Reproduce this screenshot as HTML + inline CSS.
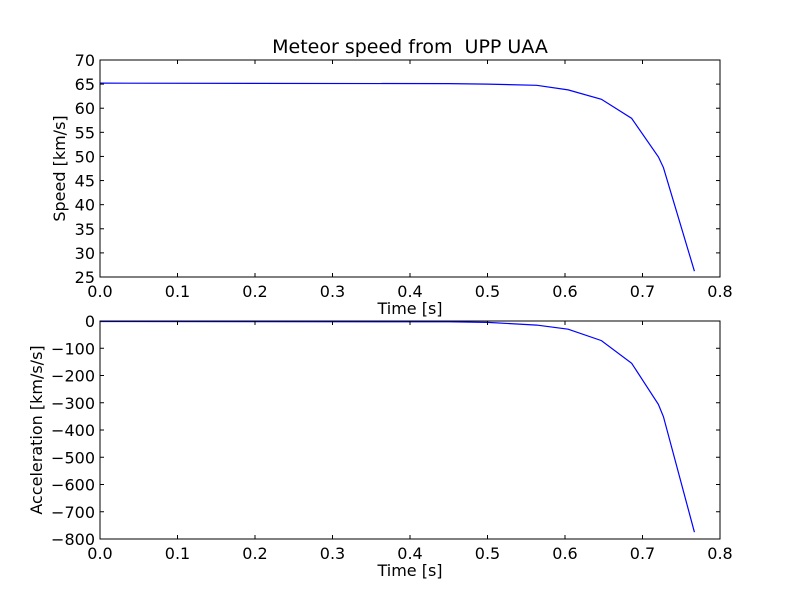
<!DOCTYPE html>
<html><head><meta charset="utf-8"><style>
html,body{margin:0;padding:0;background:#fff}
svg{display:block;font-family:"DejaVu Sans","Liberation Sans",sans-serif}
</style></head><body>
<svg id="fig" width="800" height="600"></svg>
<script>
const timeVals = [0, 0.45, 0.5, 0.5635, 0.604, 0.647, 0.686, 0.7205, 0.727, 0.767];
const speedVals = [65.2, 65.1, 65.0, 64.75, 63.8, 61.85, 57.9, 49.9, 47.7, 26.2];
const accelVals = [-2, -3, -5, -15, -30, -72, -155, -306, -351, -775];
const xTicks = [0, 0.1, 0.2, 0.3, 0.4, 0.5, 0.6, 0.7, 0.8];
const speedTicks = [25, 30, 35, 40, 45, 50, 55, 60, 65, 70];
const accelTicks = [-800, -700, -600, -500, -400, -300, -200, -100, 0];

const NS = "http://www.w3.org/2000/svg";
const svg = document.getElementById('fig');
function mk(tag, attrs, parent) {
  const e = document.createElementNS(NS, tag);
  for (const k in attrs) e.setAttribute(k, attrs[k]);
  (parent || svg).appendChild(e);
  return e;
}
function panel(name, top, bottom, ymin, ymax, yTicks, yVals, yLabel, yLabelX) {
  const L = 100, R = 720;
  const g = mk('g', {});
  
  
  const sx = v => L + (v - 0) / 0.8 * (R - L);
  const sy = v => bottom - (v - ymin) / (ymax - ymin) * (bottom - top);
  // line
  const pts = timeVals.map((t, i) => sx(t).toFixed(2) + ',' + sy(yVals[i]).toFixed(2)).join(' ');
  const line = mk('polyline', {points: pts, fill: 'none', stroke: '#0000ff', 'stroke-width': 1.2}, g);
  
  
  // frame
  const fr = mk('rect', {x: L, y: top, width: R - L, height: bottom - top, fill: 'none', stroke: '#000', 'stroke-width': 1}, g);
  
  
  xTicks.forEach(t => {
    const x = sx(t);
    mk('line', {x1: x, x2: x, y1: bottom, y2: bottom - 4, stroke: '#000'}, g);
    mk('line', {x1: x, x2: x, y1: top, y2: top + 4, stroke: '#000'}, g);
    const tx = mk('text', {x: x, y: bottom + 20, 'font-size': 16, 'text-anchor': 'middle'}, g);
    tx.textContent = t.toFixed(1);
    
    
  });
  yTicks.forEach(v => {
    const y = sy(v);
    mk('line', {x1: L, x2: L + 4, y1: y, y2: y, stroke: '#000'}, g);
    mk('line', {x1: R, x2: R - 4, y1: y, y2: y, stroke: '#000'}, g);
    const tx = mk('text', {x: L - 5, y: y + 6, 'font-size': 16, 'text-anchor': 'end'}, g);
    tx.textContent = String(v).replace('-', '\u2212');
    
    
  });
  const xl = mk('text', {x: 410, y: bottom + 37, 'font-size': 16, 'text-anchor': 'middle'}, g);
  xl.textContent = 'Time [s]';
  
  
  const cy = (top + bottom) / 2;
  const yl = mk('text', {x: yLabelX, y: cy, 'font-size': 16, 'text-anchor': 'middle', transform: 'rotate(-90 ' + yLabelX + ' ' + cy + ')'}, g);
  yl.textContent = yLabel;
  
  
}
panel('speed-panel', 60, 277, 25, 70, speedTicks, speedVals, 'Speed [km/s]', 65);
panel('acceleration-panel', 321, 539, -800, 0, accelTicks, accelVals, 'Acceleration [km/s/s]', 42);
const title = mk('text', {x: 410, y: 53, 'font-size': 19, 'text-anchor': 'middle'});
title.textContent = 'Meteor speed from  UPP UAA';
title.setAttribute('xml:space', 'preserve');
title.setAttribute('style', 'white-space:pre');


</script>
</body></html>
